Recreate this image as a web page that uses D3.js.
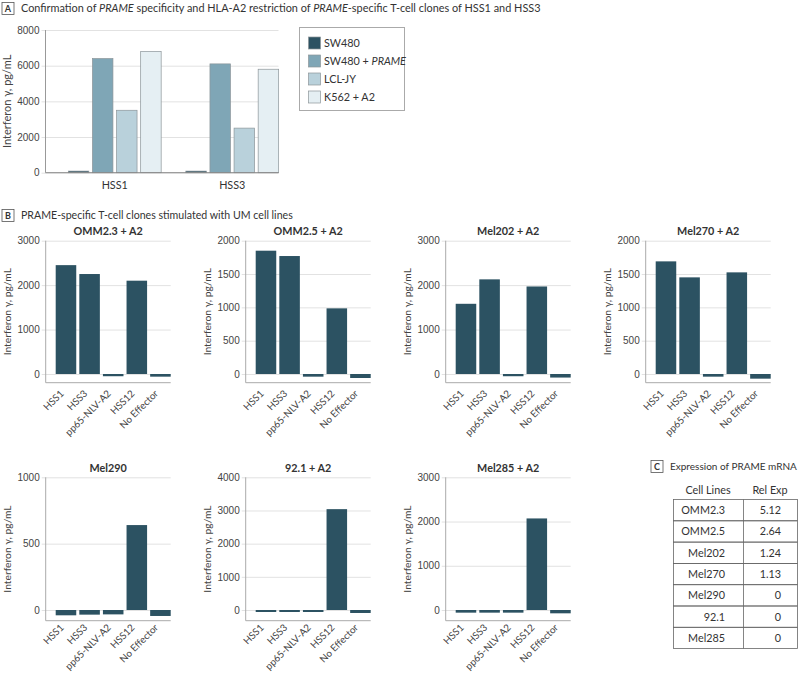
<!DOCTYPE html>
<html>
<head>
<meta charset="utf-8">
<script src="https://cdn.jsdelivr.net/npm/d3@7"></script>
<style>
  body { margin: 0; background: #fff; }
  svg { font-family: Lato, "Open Sans", sans-serif; }
  .grid line { stroke: #e2e2e2; }
  .tick text { fill: #444; font-size: 10px; }
</style>
</head>
<body>
<div id="chart"></div>
<script>
// panel A data
var groupsA = ["HSS1", "HSS3"];
var seriesA = ["SW480", "SW480 + PRAME", "LCL-JY", "K562 + A2"];
var sw480 = [90, 90];
var sw480Prame = [6400, 6100];
var lclJy = [3500, 2500];
var k562A2 = [6800, 5800];
var ticksA = [0, 2000, 4000, 6000, 8000];

// panel B data
var effectors = ["HSS1", "HSS3", "pp65-NLV-A2", "HSS12", "No Effector"];
var cellLines = ["OMM2.3 + A2", "OMM2.5 + A2", "Mel202 + A2", "Mel270 + A2", "Mel290", "92.1 + A2", "Mel285 + A2"];
var omm23 = [2450, 2250, -50, 2100, -60];
var omm25 = [1850, 1770, -40, 985, -60];
var mel202 = [1580, 2130, -50, 1970, -80];
var mel270 = [1690, 1450, -40, 1525, -70];
var mel290 = [-40, -35, -33, 640, -45];
var m921 = [-60, -60, -60, 3040, -90];
var mel285 = [-60, -60, -60, 2070, -75];
var yMaxB = [3000, 2000, 3000, 2000, 1000, 4000, 3000];
var yStepB = [1000, 500, 1000, 500, 500, 1000, 1000];

// panel C data
var tableLines = ["OMM2.3", "OMM2.5", "Mel202", "Mel270", "Mel290", "92.1", "Mel285"];
var relExp = ["5.12", "2.64", "1.24", "1.13", "0", "0", "0"];

var dark = "#2c5262";
var colorsA = [dark, "#7fa6b6", "#b9d1db", "#e5eff3"];
var fmt = d3.format("d");

var svg = d3.select("#chart").append("svg")
    .attr("width", 800)
    .attr("height", 677);

// panel header: boxed letter + title
function header(x, y, letter, parts, size) {
    svg.append("rect")
        .attr("x", x).attr("y", y - 9.5)
        .attr("width", 12).attr("height", 12)
        .attr("fill", "#fff").attr("stroke", "#555").attr("stroke-width", 0.8);
    svg.append("text")
        .attr("x", x + 6).attr("y", y)
        .attr("text-anchor", "middle")
        .attr("font-size", 9).attr("font-weight", "bold").attr("fill", "#333")
        .text(letter);
    var t = svg.append("text")
        .attr("x", x + 19).attr("y", y)
        .attr("font-size", size).attr("fill", "#333");
    parts.forEach(function (p) {
        t.append("tspan").attr("font-style", p[1] ? "italic" : "normal").text(p[0]);
    });
}

header(2, 12, "A", [["Confirmation of ", 0], ["PRAME", 1], [" specificity and HLA-A2 restriction of ", 0],
    ["PRAME", 1], ["-specific T-cell clones of HSS1 and HSS3", 0]], 10.9);
header(2, 219, "B", [["PRAME-specific T-cell clones stimulated with UM cell lines", 0]], 10.6);
header(651, 470, "C", [["Expression of PRAME mRNA", 0]], 10);

// ---------- panel A ----------
var axA = 45.5, topA = 30, zeroA = 172.7, plotWA = 233;
var gA = svg.append("g");
var yA = d3.scaleLinear().domain([0, 8000]).range([zeroA, topA]);
var x0A = d3.scaleBand().domain(groupsA).range([56, 291]).paddingInner(0.21).paddingOuter(0.105);
var x1A = d3.scaleBand().domain(seriesA).range([0, x0A.bandwidth()]).paddingInner(0.15);

var axisA = gA.append("g")
    .attr("class", "grid")
    .attr("transform", "translate(" + axA + ",0)")
    .call(d3.axisLeft(yA).tickValues(ticksA).tickFormat(fmt).tickSizeOuter(0));
axisA.select(".domain").remove();
axisA.selectAll(".tick line").attr("x1", -4).attr("x2", plotWA);
axisA.selectAll(".tick text").attr("x", -6).attr("font-size", 10.3);

var dataA = [sw480, sw480Prame, lclJy, k562A2];
groupsA.forEach(function (g, gi) {
    gA.selectAll(null)
        .data(seriesA)
        .enter().append("rect")
        .attr("x", function (s) { return x0A(g) + x1A(s); })
        .attr("y", function (s, si) { return yA(dataA[si][gi]); })
        .attr("width", x1A.bandwidth())
        .attr("height", function (s, si) { return zeroA - yA(dataA[si][gi]); })
        .attr("fill", function (s, si) { return colorsA[si]; })
        .attr("stroke", "#8c9599").attr("stroke-width", 0.7);
});

gA.append("line").attr("x1", axA).attr("x2", axA).attr("y1", topA).attr("y2", zeroA)
    .attr("stroke", "#999");
gA.append("line").attr("x1", axA).attr("x2", axA + plotWA).attr("y1", zeroA).attr("y2", zeroA)
    .attr("stroke", "#888");

gA.selectAll(".grpLabel")
    .data(groupsA)
    .enter().append("text")
    .attr("x", function (g) { return x0A(g) + x0A.bandwidth() / 2; })
    .attr("y", 189)
    .attr("text-anchor", "middle")
    .attr("font-size", 10.8).attr("fill", "#333")
    .text(function (d) { return d; });

svg.append("text")
    .attr("transform", "translate(11," + ((topA + zeroA) / 2) + ") rotate(-90)")
    .attr("text-anchor", "middle")
    .attr("font-size", 11).attr("fill", "#444")
    .text("Interferon γ, pg/mL");

// legend
var leg = svg.append("g");
leg.append("rect").attr("x", 299.5).attr("y", 27.5).attr("width", 105).attr("height", 83)
    .attr("fill", "#fff").attr("stroke", "#aaa");
seriesA.forEach(function (s, i) {
    var ly = 37 + i * 18;
    leg.append("rect").attr("x", 308.5).attr("y", ly).attr("width", 12).attr("height", 12)
        .attr("fill", colorsA[i]).attr("stroke", "#8c9599").attr("stroke-width", 0.7);
    var t = leg.append("text").attr("x", 324).attr("y", ly + 10)
        .attr("font-size", 10.8).attr("fill", "#333");
    if (s == "SW480 + PRAME") {
        t.append("tspan").text("SW480 + ");
        t.append("tspan").attr("font-style", "italic").text("PRAME");
    } else {
        t.text(s);
    }
});

// ---------- panel B ----------
var seriesB = [omm23, omm25, mel202, mel270, mel290, m921, mel285];
var plotWB = 125;
var rows = [
    {top: 240.7, zero: 374, bottom: 382.7, titleY: 235, labOff: 9},
    {top: 477.3, zero: 610, bottom: 620.7, titleY: 471.5, labOff: 5}
];

cellLines.forEach(function (name, ci) {
    var row = rows[ci < 4 ? 0 : 1];
    var ax = 45.7 + (ci % 4) * 200;
    var vals = seriesB[ci];
    var g = svg.append("g").attr("transform", "translate(" + ax + ",0)");

    var y = d3.scaleLinear().domain([0, yMaxB[ci]]).range([row.zero, row.top]);
    var x = d3.scaleBand().domain(effectors).range([10, plotWB]).paddingInner(0.13);

    var yAxis = g.append("g")
        .attr("class", "grid")
        .call(d3.axisLeft(y).tickValues(d3.range(0, yMaxB[ci] + 1, yStepB[ci])).tickFormat(fmt).tickSizeOuter(0));
    yAxis.select(".domain").remove();
    yAxis.selectAll(".tick line").attr("x1", -4).attr("x2", plotWB);
    yAxis.selectAll(".tick text").attr("x", -6).attr("font-size", 10.3);

    g.selectAll(".bar")
        .data(vals)
        .enter().append("rect")
        .attr("class", "bar")
        .attr("x", function (d, i) { return x(effectors[i]); })
        .attr("y", function (d) { return Math.min(y(d), y(0)); })
        .attr("width", x.bandwidth())
        .attr("height", function (d) { return Math.abs(y(d) - y(0)); })
        .attr("fill", dark);

    // frame: left axis and bottom line
    g.append("line").attr("x1", 0).attr("x2", 0).attr("y1", row.top).attr("y2", row.bottom)
        .attr("stroke", "#aaa");
    g.append("line").attr("x1", 0).attr("x2", plotWB).attr("y1", row.bottom).attr("y2", row.bottom)
        .attr("stroke", "#aaa");

    g.selectAll(".xl")
        .data(effectors)
        .enter().append("text")
        .attr("transform", function (d) {
            return "translate(" + (x(d) + x.bandwidth() / 2 - 4) + "," + (row.bottom + row.labOff) + ") rotate(-45)";
        })
        .attr("text-anchor", "end")
        .attr("dy", "0.35em")
        .attr("font-size", 9.8).attr("fill", "#444")
        .text(function (d) { return d; });

    g.append("text")
        .attr("x", plotWB / 2).attr("y", row.titleY)
        .attr("text-anchor", "middle")
        .attr("font-size", 10.8).attr("font-weight", "bold").attr("fill", "#333")
        .text(name);

    g.append("text")
        .attr("transform", "translate(-34.5," + ((row.top + row.bottom) / 2) + ") rotate(-90)")
        .attr("text-anchor", "middle")
        .attr("font-size", 10.3).attr("fill", "#444")
        .text("Interferon γ, pg/mL");
});

// ---------- panel C ----------
var tx = 673.5, tDiv = 743.5, tRight = 797.5, tTop = 499.5, rowH = 21.3;
var tbl = svg.append("g");
tbl.append("text").attr("x", 708).attr("y", 494).attr("text-anchor", "middle")
    .attr("font-size", 10.8).attr("fill", "#333").text("Cell Lines");
tbl.append("text").attr("x", 770).attr("y", 494).attr("text-anchor", "middle")
    .attr("font-size", 10.8).attr("fill", "#333").text("Rel Exp");

tbl.selectAll(".row")
    .data(tableLines)
    .enter().append("rect")
    .attr("x", tx).attr("y", function (d, i) { return tTop + i * rowH; })
    .attr("width", tRight - tx).attr("height", rowH)
    .attr("fill", "none").attr("stroke", "#666").attr("stroke-width", 0.8);
tbl.append("line").attr("x1", tDiv).attr("x2", tDiv)
    .attr("y1", tTop).attr("y2", tTop + rowH * tableLines.length)
    .attr("stroke", "#666").attr("stroke-width", 0.8);

tbl.selectAll(".cl")
    .data(tableLines)
    .enter().append("text")
    .attr("x", 725).attr("y", function (d, i) { return tTop + i * rowH + 14.5; })
    .attr("text-anchor", "end")
    .attr("font-size", 10.8).attr("fill", "#333")
    .text(function (d) { return d; });
tbl.selectAll(".re")
    .data(relExp)
    .enter().append("text")
    .attr("x", 781).attr("y", function (d, i) { return tTop + i * rowH + 14.5; })
    .attr("text-anchor", "end")
    .attr("font-size", 10.8).attr("fill", "#333")
    .text(function (d) { return d; });
</script>
</body>
</html>
